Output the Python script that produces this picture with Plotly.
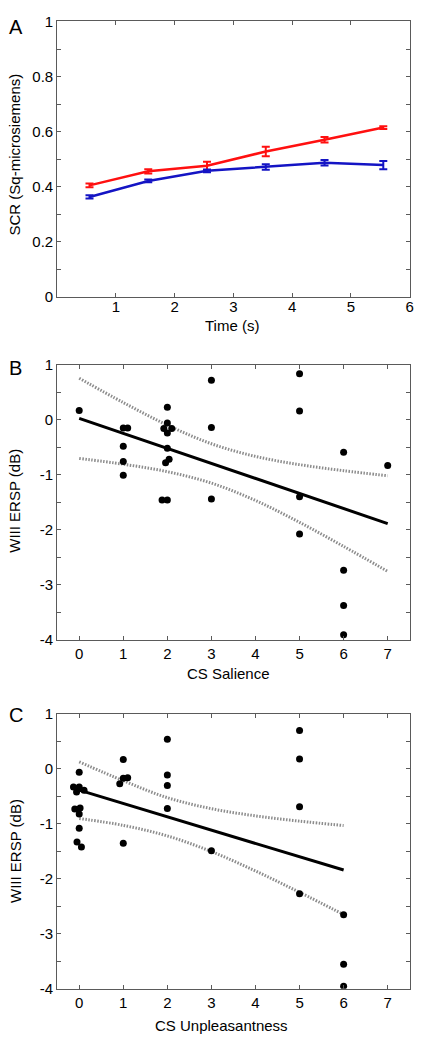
import plotly.graph_objects as go

# ---------------- Panel A data ----------------
time_s = [0.55, 1.55, 2.55, 3.55, 4.55, 5.55]
scr_red = [0.405, 0.456, 0.476, 0.528, 0.571, 0.615]
scr_red_err = [0.007, 0.008, 0.015, 0.017, 0.010, 0.005]
scr_blue = [0.363, 0.421, 0.458, 0.472, 0.487, 0.479]
scr_blue_err = [0.006, 0.005, 0.005, 0.010, 0.010, 0.015]

# ---------------- Panel B data ----------------
sal_x = [0, 1, 1.1, 1, 1, 1,
         2, 2, 1.92, 2.1, 2, 2, 1.96, 2.04, 1.88, 2,
         3, 3, 3,
         5, 5, 5, 5,
         6, 6, 6, 6,
         7]
sal_y = [0.17, -0.15, -0.15, -0.48, -0.76, -1.01,
         0.23, -0.06, -0.16, -0.16, -0.24, -0.52, -0.78, -0.72, -1.46, -1.46,
         0.72, -0.14, -1.44,
         0.84, 0.16, -1.40, -2.08,
         -0.59, -2.74, -3.38, -3.91,
         -0.83]
sal_fit_x = [0, 7]
sal_fit_y = [0.027, -1.888]
sal_ci_x = [0, 1, 2, 3, 4, 5, 6, 7]
sal_ci_up = [0.757, 0.314, -0.096, -0.436, -0.666, -0.816, -0.926, -1.018]
sal_ci_lo = [-0.703, -0.808, -0.944, -1.152, -1.468, -1.866, -2.304, -2.758]

# ---------------- Panel C data ----------------
unp_x = [0, -0.13, 0, -0.06, 0.11, -0.10, 0.02, 0, 0, -0.05, 0.05,
         1, 1, 1.1, 0.92, 1,
         2, 2, 2, 2,
         3,
         5, 5, 5, 5,
         6, 6, 6]
unp_y = [-0.06, -0.33, -0.33, -0.42, -0.39, -0.73, -0.71, -0.82, -1.08, -1.33, -1.42,
         0.17, -0.17, -0.16, -0.27, -1.35,
         0.54, -0.11, -0.30, -0.72,
         -1.49,
         0.70, 0.18, -0.69, -2.27,
         -2.65, -3.55, -3.95]
unp_fit_x = [0, 6]
unp_fit_y = [-0.387, -1.839]
unp_ci_x = [0, 1, 2, 3, 4, 5, 6]
unp_ci_up = [0.128, -0.215, -0.523, -0.723, -0.854, -0.950, -1.030]
unp_ci_lo = [-0.902, -1.027, -1.219, -1.503, -1.856, -2.244, -2.648]

FONT = "Liberation Sans, Arial, sans-serif"
W, H = 439, 1050
RED = "#ff1010"
BLUE = "#1414c4"
FRAME = "#5a5a5a"
DOTC = "#8c8c8c"
DOTDASH = "1.5px,1.5px"

fig = go.Figure()

# Panel A
fig.add_trace(go.Scatter(x=time_s, y=scr_red, mode="lines", line=dict(color=RED, width=2.5),
                         error_y=dict(type="data", array=scr_red_err, color=RED, thickness=2, width=4),
                         xaxis="x", yaxis="y", showlegend=False))
fig.add_trace(go.Scatter(x=time_s, y=scr_blue, mode="lines", line=dict(color=BLUE, width=2.5),
                         error_y=dict(type="data", array=scr_blue_err, color=BLUE, thickness=2, width=4),
                         xaxis="x", yaxis="y", showlegend=False))

# Panel B
for cy in (sal_ci_up, sal_ci_lo):
    fig.add_trace(go.Scatter(x=sal_ci_x, y=cy, mode="lines",
                             line=dict(color=DOTC, width=3, dash=DOTDASH, shape="spline"),
                             xaxis="x2", yaxis="y2", showlegend=False))
fig.add_trace(go.Scatter(x=sal_fit_x, y=sal_fit_y, mode="lines", line=dict(color="black", width=3),
                         xaxis="x2", yaxis="y2", showlegend=False))
fig.add_trace(go.Scatter(x=sal_x, y=sal_y, mode="markers", marker=dict(color="black", size=7),
                         xaxis="x2", yaxis="y2", showlegend=False))

# Panel C
for cy in (unp_ci_up, unp_ci_lo):
    fig.add_trace(go.Scatter(x=unp_ci_x, y=cy, mode="lines",
                             line=dict(color=DOTC, width=3, dash=DOTDASH, shape="spline"),
                             xaxis="x3", yaxis="y3", showlegend=False))
fig.add_trace(go.Scatter(x=unp_fit_x, y=unp_fit_y, mode="lines", line=dict(color="black", width=3),
                         xaxis="x3", yaxis="y3", showlegend=False))
fig.add_trace(go.Scatter(x=unp_x, y=unp_y, mode="markers", marker=dict(color="black", size=7),
                         xaxis="x3", yaxis="y3", showlegend=False))


def px_x(p):
    return p / W


def px_y(p):
    return 1 - p / H


L, R = 57.7, 413.5
xdom = [px_x(L), px_x(R)]

axbase = dict(showgrid=False, zeroline=False, showline=True, linecolor=FRAME, linewidth=1,
              mirror="allticks", ticks="inside", ticklen=4, tickcolor=FRAME,
              tickfont=dict(family=FONT, size=15, color="black"))

fig.update_layout(
    width=W, height=H,
    margin=dict(l=0, r=0, t=0, b=0),
    paper_bgcolor="white", plot_bgcolor="white",
    font=dict(family=FONT, color="black"),
    xaxis=dict(domain=xdom, range=[0, 6], tickvals=[1, 2, 3, 4, 5, 6], anchor="y",
               ticklabelstandoff=-4, **axbase),
    yaxis=dict(domain=[px_y(292.7), px_y(12.7)], range=[0, 1], tickvals=[0, 0.2, 0.4, 0.6, 0.8, 1],
               ticktext=["0", "0.2", "0.4", "0.6", "0.8", "1"], anchor="x",
               minor=dict(dtick=0.1, ticks="inside", ticklen=4, tickcolor=FRAME), **axbase),
    xaxis2=dict(domain=xdom, range=[-0.5, 7.5], tickvals=list(range(8)), anchor="y2", **axbase),
    yaxis2=dict(domain=[px_y(641), px_y(361.7)], range=[-4, 1], tickvals=[-4, -3, -2, -1, 0, 1],
                ticktext=["-4", "-3", "-2", "-1", "0", "1"], anchor="x2",
                minor=dict(dtick=0.5, ticks="inside", ticklen=4, tickcolor=FRAME), **axbase),
    xaxis3=dict(domain=xdom, range=[-0.5, 7.5], tickvals=list(range(8)), anchor="y3", **axbase),
    yaxis3=dict(domain=[px_y(996), px_y(716.5)], range=[-4, 1], tickvals=[-4, -3, -2, -1, 0, 1],
                ticktext=["-4", "-3", "-2", "-1", "0", "1"], anchor="x3",
                minor=dict(dtick=0.5, ticks="inside", ticklen=4, tickcolor=FRAME), **axbase),
)


def ann(text, x, y, size, angle=0):
    fig.add_annotation(text=text, x=px_x(x), y=px_y(y), xref="paper", yref="paper",
                       showarrow=False, textangle=angle, xanchor="center", yanchor="middle",
                       font=dict(family=FONT, size=size, color="black"))


ann("A", 16, 18, 20)
ann("B", 16, 365, 20)
ann("C", 16, 718, 20)
ann("Time (s)", 234, 322, 15)
ann("CS Salience", 231, 675, 15)
ann("CS Unpleasantness", 224, 1033, 15)
ann("SCR (Sq-microsiemens)", 15, 148, 15, -90)
ann("WIII ERSP (dB)", 15, 500, 15, -90)
ann("WIII ERSP (dB)", 15, 856, 15, -90)

fig.write_html("out.html", config={"displayModeBar": False},
               post_script="document.body.style.margin='0';document.body.style.overflow='hidden';")
